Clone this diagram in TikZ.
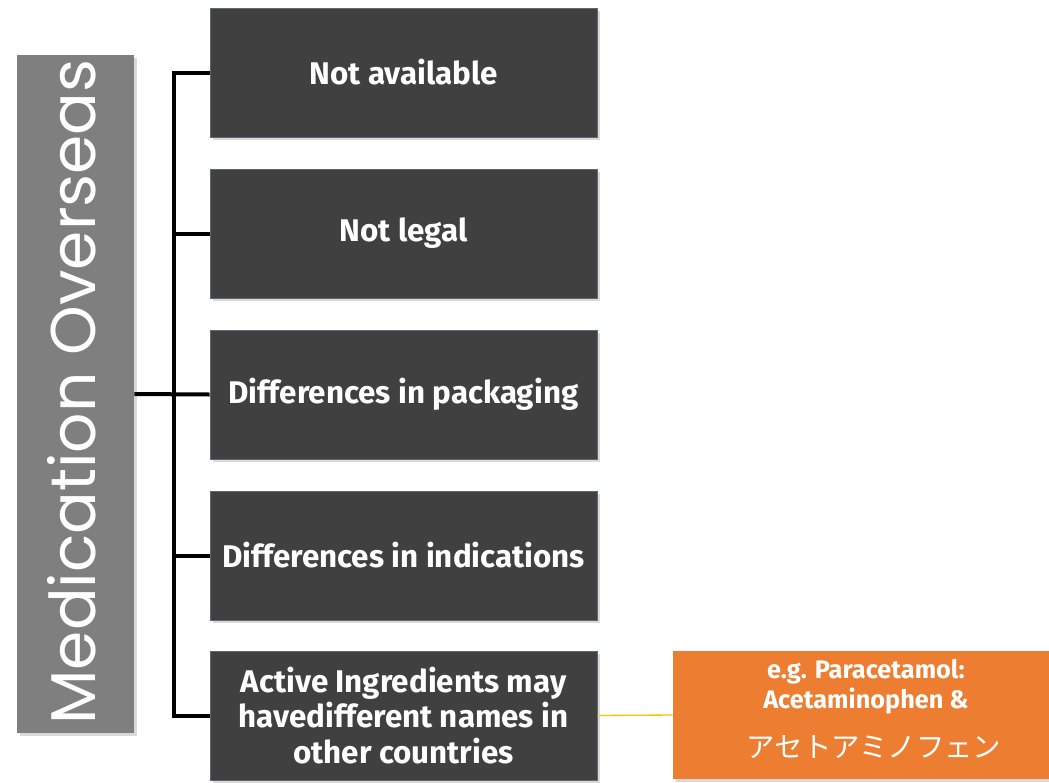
\documentclass[tikz,border=0pt]{standalone}
\usepackage{fontspec}
\setmainfont{Fira Sans}
\newfontfamily\titlefont{Poppins}
\newfontfamily\jpfont{Noto Sans CJK JP}
\usetikzlibrary{shadows}
\definecolor{darkbox}{HTML}{404040}
\definecolor{darkborder}{HTML}{5A6878}
\definecolor{graybox}{HTML}{7F7F7F}
\definecolor{orangebox}{HTML}{ED7D31}
\definecolor{yellowline}{HTML}{FFC000}
\tikzset{
  itembox/.style={draw=darkborder, line width=0.6pt, fill=darkbox, text=white,
    minimum width=290.25pt, minimum height=96.75pt, align=center,
    font=\fontsize{23.5}{26.5}\selectfont\bfseries,
    drop shadow={opacity=0.3, shadow xshift=2pt, shadow yshift=-2pt}},
  titlebox/.style={fill=graybox, minimum width=87.75pt, minimum height=508.5pt,
    drop shadow={opacity=0.3, shadow xshift=2pt, shadow yshift=-2pt}},
  examplebox/.style={fill=orangebox, text=white, minimum width=282pt, minimum height=96pt,
    align=center, drop shadow={opacity=0.3, shadow xshift=2pt, shadow yshift=-2pt}},
  bracket/.style={line width=3pt, black},
  linkline/.style={line width=1pt, yellowline}
}
\begin{document}
\begin{tikzpicture}[x=0.75pt,y=-0.75pt]
\useasboundingbox (0,0) rectangle (1049,782);
\node[titlebox] (title) at (75.5,394) {};
\node[rotate=90, text=white, font=\titlefont\fontsize{47.4}{47.4}\selectfont] (titletext) at (72,392) {Medication Overseas};
\node[itembox] (b1) at (403.5,72.5) {Not available};
\node[itembox] (b2) at (403.5,233.5) {Not legal};
\node[itembox] (b3) at (403.5,394.5) {Differences in packaging};
\node[itembox] (b4) at (403.5,555.5) {Differences in indications};
\node[itembox] (b5) at (403.5,715.5) {Active Ingredients may\\havedifferent names in\\other countries};
\node[examplebox] (ex) at (861,715) {};
\node[text=white, align=center, font=\fontsize{19}{22.5}\selectfont\bfseries] (extext) at (866,687) {e.g. Paracetamol:\\Acetaminophen \&};
\node[text=white, font=\jpfont\fontsize{21.3}{22}\selectfont] (exjp) at (874,747) {アセトアミノフェン};
\coordinate (top) at (174,72.5);
\coordinate (bot) at (174,715.5);
\draw[bracket, line cap=rect] (top) -- (bot);
\draw[bracket] (title.east) -- (b3.west);
\foreach \b in {b1,b2,b4,b5} {
  \draw[bracket] (\b.west) -- (\b.west -| top);
}
\draw[linkline] (b5.east) -- (ex.west);
\end{tikzpicture}
\end{document}
